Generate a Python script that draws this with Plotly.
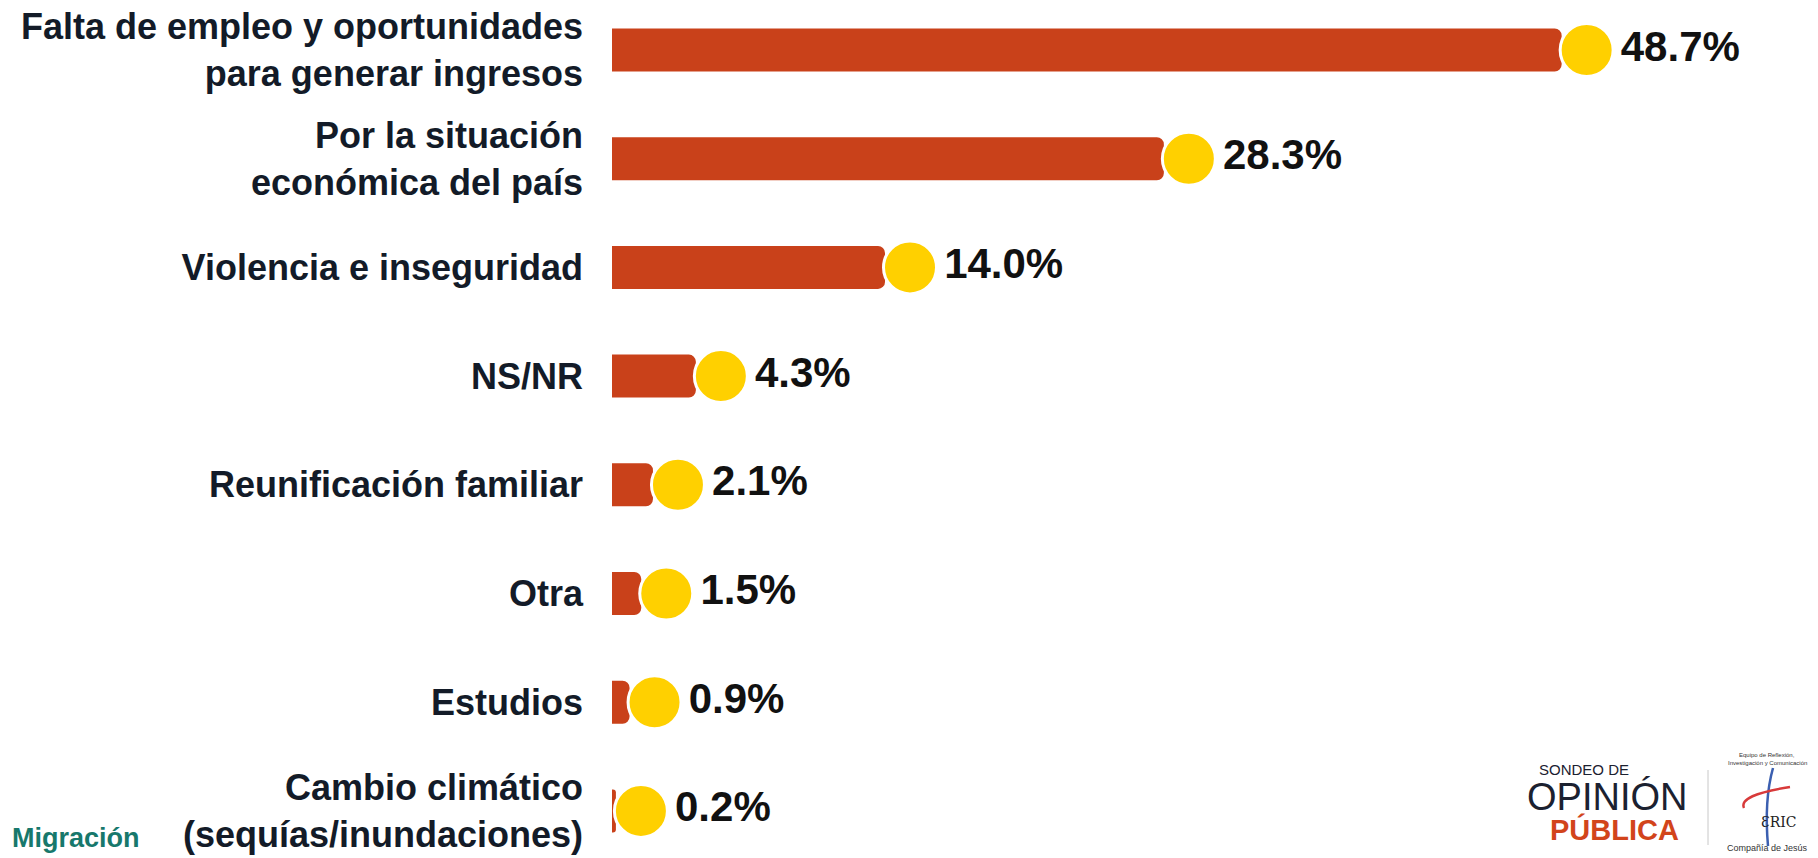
import plotly.graph_objects as go

categories = [
    "Falta de empleo y oportunidades<br>para generar ingresos",
    "Por la situación<br>económica del país",
    "Violencia e inseguridad",
    "NS/NR",
    "Reunificación familiar",
    "Otra",
    "Estudios",
    "Cambio climático<br>(sequías/inundaciones)",
]
values = [48.7, 28.3, 14.0, 4.3, 2.1, 1.5, 0.9, 0.2]
value_labels = [f"{v:.1f}%" for v in values]

# the page body has an 8px margin, so the figure is drawn 8px smaller and
# every page-pixel position below is converted with P = 8
P = 8
W, H = 1818 - P, 858 - P
L = 612 - P
S = 19.5  # px per unit
R = (W - L) / S
OFF = 25 / S
STEP = 108.7
TOP = -(50 - P) / STEP
BOT = TOP + H / STEP

BAR = "#C9411A"
YEL = "#FFD000"
NAVY = "#131B28"
FONT = "Liberation Sans, Arial, sans-serif"

fig = go.Figure()
fig.add_trace(go.Bar(
    x=values, y=categories, orientation="h", width=43 / STEP,
    marker=dict(color=BAR, cornerradius=7, line=dict(width=0)),
    hoverinfo="skip",
))
fig.add_trace(go.Scatter(
    x=values, y=categories, xaxis="x2", mode="markers+text",
    marker=dict(size=53, color=YEL, line=dict(color="white", width=3)),
    text=value_labels, textposition="middle right",
    textfont=dict(size=42, family=FONT, color="#111111", weight="bold"),
    cliponaxis=False, hoverinfo="skip",
))


def px(x):
    return (x - P - L) / (W - L)


def py(y):
    return 1 - (y - P) / H


ann = []
def t(x, y, text, size, color, weight="normal", family=FONT, xa="center"):
    ann.append(dict(x=px(x), y=py(y), xref="paper", yref="paper", text=text,
                    showarrow=False, xanchor=xa, yanchor="middle",
                    font=dict(size=size, color=color, family=family, weight=weight)))

t(10, 838, "Migración", 27, "#17786C", "bold", xa="left")
t(1584, 769, "SONDEO DE", 15, "#1B2130")
t(1607, 797, "OPINIÓN", 38, "#1B2130")
t(1614, 829, "PÚBLICA", 29, "#D2441B", "bold")
t(1767, 755, "Equipo de Reflexión,", 6, "#333333")
t(1767, 763, "Investigación y Comunicación", 6, "#333333")
t(1779, 822, "ƐRIC", 14, "#222222", family="DejaVu Serif")
t(1767, 848, "Compañía de Jesús", 9, "#333333")

shapes = [
    dict(type="line", xref="paper", yref="paper", x0=px(1708), x1=px(1708),
         y0=py(770), y1=py(845), line=dict(color="#C8C8C8", width=1)),
    dict(type="path", xref="paper", yref="paper",
         path=f"M {px(1773)} {py(768)} Q {px(1764)} {py(800)} {px(1768)} {py(846)}",
         line=dict(color="#3B5FB0", width=2.5)),
    dict(type="path", xref="paper", yref="paper",
         path=f"M {px(1744)} {py(808)} Q {px(1738)} {py(795)} {px(1790)} {py(787)}",
         line=dict(color="#D83A3A", width=2.5)),
]

fig.update_layout(
    width=W, height=H,
    margin=dict(l=L, r=0, t=0, b=0),
    plot_bgcolor="white", paper_bgcolor="white",
    showlegend=False,
    xaxis=dict(range=[0, R], visible=False, fixedrange=True),
    xaxis2=dict(range=[-OFF, R - OFF], overlaying="x", visible=False),
    yaxis=dict(
        type="category", range=[BOT, TOP], showgrid=False, zeroline=False,
        showline=False, ticks="", automargin=False, ticklabelstandoff=28,
        tickfont=dict(size=36, family=FONT, color=NAVY, weight="bold"),
    ),
    annotations=ann,
    shapes=shapes,
)

fig.write_html("out.html")
